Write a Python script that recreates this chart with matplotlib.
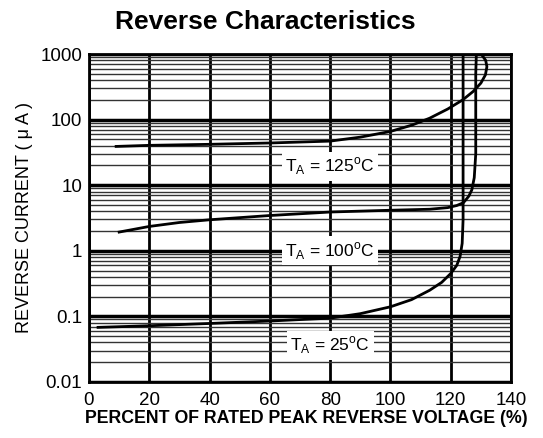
import matplotlib
matplotlib.use("Agg")
import matplotlib.pyplot as plt
from matplotlib.ticker import FixedLocator, LogLocator, NullFormatter

plt.rcParams['font.family'] = ['Liberation Sans', 'DejaVu Sans']
plt.rcParams['mathtext.fontset'] = 'custom'
plt.rcParams['mathtext.rm'] = 'Liberation Sans'

# T_A = 25 C
x25 = [3, 20, 40, 60, 80, 90, 100, 107, 113, 117, 120, 122, 123.1, 123.8, 124.1, 124.1, 124.1, 124.1]
y25 = [0.068, 0.072, 0.078, 0.085, 0.094, 0.11, 0.14, 0.18, 0.25, 0.33, 0.45, 0.6, 0.82, 1.3, 3, 10, 100, 1000]

# T_A = 100 C
x100 = [10, 20, 30, 40, 60, 80, 100, 113, 119, 122, 124.2, 126, 127, 127.8, 128.3, 128.3, 128.3, 128.5]
y100 = [1.93, 2.35, 2.7, 2.97, 3.45, 3.9, 4.15, 4.3, 4.55, 4.9, 5.4, 6.8, 8.5, 13, 30, 100, 500, 1000]

# T_A = 125 C
x125 = [9, 20, 40, 60, 80, 90, 100, 107, 113, 119, 124, 127.5, 130, 131.5, 132, 131.6, 130.3]
y125 = [39, 40.5, 42, 44, 47, 54, 66, 82, 105, 145, 200, 270, 360, 480, 640, 800, 970]

labels = ['125', '100', '25']
label_y = [19.3, 1.0, 0.036]
label_x = 80

xticks = [0, 20, 40, 60, 80, 100, 120, 140]
yticks = [0.01, 0.1, 1, 10, 100, 1000]
ytick_labels = ['0.01', '0.1', '1', '10', '100', '1000']

fig = plt.figure(figsize=(5.43, 4.38), dpi=100)
ax = fig.add_axes([0.1639, 0.1279, 0.9411 - 0.1639, 0.8767 - 0.1279])

ax.set_yscale('log')
ax.set_xlim(0, 140)
ax.set_ylim(0.01, 1000)

ax.xaxis.set_major_locator(FixedLocator(xticks))
ax.yaxis.set_major_locator(FixedLocator(yticks))
ax.yaxis.set_minor_locator(LogLocator(base=10, subs=range(2, 10), numticks=20))
ax.yaxis.set_minor_formatter(NullFormatter())
ax.set_yticklabels(ytick_labels)
ax.set_xticklabels([str(v) for v in xticks])

ax.grid(True, which='major', axis='x', color='black', lw=2.0)
ax.grid(True, which='major', axis='y', color='black', lw=2.5)
ax.grid(True, which='minor', axis='y', color='#333333', lw=1.0)
ax.tick_params(which='both', length=0, labelsize=13.5, colors='black')
ax.tick_params(axis='x', pad=7)
ax.tick_params(axis='y', pad=5)
ax.set_axisbelow(True)
for s in ax.spines.values():
    s.set_linewidth(2.0)
    s.set_zorder(5)

for xs, ys in [(x25, y25), (x100, y100), (x125, y125)]:
    ax.plot(xs, ys, color='black', lw=2.0, zorder=3)

for t, yv in zip(labels, label_y):
    ax.text(label_x, yv, r'T$_{\mathregular{A}}$ = ' + t + r'$^{\mathregular{o}}$C',
            ha='center', va='center', fontsize=12.5, zorder=4,
            bbox=dict(facecolor='white', edgecolor='none', pad=2.5))

ax.set_xlabel('PERCENT OF RATED PEAK REVERSE VOLTAGE (%)', fontsize=12.8, fontweight='bold', labelpad=2)
ax.xaxis.set_label_coords(0.515, -0.085)
ax.set_ylabel('REVERSE CURRENT ( \u03bc A )', fontsize=13, labelpad=5)
fig.suptitle('Reverse Characteristics', fontsize=19, fontweight='bold', x=0.488, y=0.978)

fig.savefig('out.png', dpi=100)
